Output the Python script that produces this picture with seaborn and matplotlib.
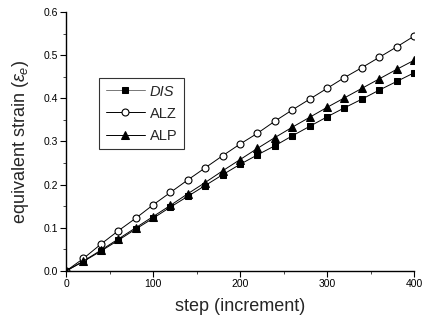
import matplotlib
matplotlib.use("Agg")
import matplotlib.pyplot as plt
import seaborn as sns
import pandas as pd
import numpy as np
from matplotlib.ticker import MultipleLocator

steps = list(range(0, 401, 20))
dis = [0, 0.022, 0.046, 0.071, 0.097, 0.122, 0.148, 0.173, 0.198, 0.223, 0.247,
       0.269, 0.290, 0.313, 0.335, 0.357, 0.378, 0.398, 0.419, 0.439, 0.459]
alz = [0, 0.029, 0.062, 0.093, 0.122, 0.153, 0.182, 0.211, 0.239, 0.267, 0.294,
       0.319, 0.347, 0.373, 0.398, 0.423, 0.448, 0.471, 0.495, 0.519, 0.544]
alp = [0, 0.023, 0.048, 0.074, 0.100, 0.126, 0.152, 0.179, 0.205, 0.232, 0.258,
       0.284, 0.309, 0.333, 0.356, 0.379, 0.401, 0.423, 0.445, 0.467, 0.488]
series_names = ["DIS", "ALZ", "ALP"]

sns.set_theme(style="ticks")
plt.rcParams['font.family'] = ['Liberation Sans', 'DejaVu Sans']
plt.rcParams['mathtext.fontset'] = 'custom'
plt.rcParams['mathtext.rm'] = 'Liberation Sans'
plt.rcParams['mathtext.it'] = 'Liberation Sans:italic'

fig = plt.figure(figsize=(4.24, 3.21), dpi=100)
ax = fig.add_axes([66/424, 1-271/321, (414-66)/424, (271-12)/321])

df = pd.DataFrame({"step": steps * 3,
                   "strain": dis + alz + alp,
                   "series": sum([[n] * len(steps) for n in series_names], [])})

styles = {
    "DIS": dict(marker="s", markersize=4.2, markerfacecolor="black", markeredgecolor="black"),
    "ALZ": dict(marker="o", markersize=5, markerfacecolor="white", markeredgecolor="black", markeredgewidth=0.8),
    "ALP": dict(marker="^", markersize=5.5, markerfacecolor="black", markeredgecolor="black"),
}
for name in series_names:
    sub = df[df["series"] == name]
    sns.lineplot(data=sub, x="step", y="strain", ax=ax, color="black", linewidth=0.7,
                 label=name, legend=False, **styles[name])

ax.set_xlim(0, 400)
ax.set_ylim(0, 0.6)
ax.xaxis.set_major_locator(MultipleLocator(100))
ax.xaxis.set_minor_locator(MultipleLocator(50))
ax.yaxis.set_major_locator(MultipleLocator(0.1))
ax.yaxis.set_minor_locator(MultipleLocator(0.05))
ax.yaxis.set_major_formatter(matplotlib.ticker.FormatStrFormatter('%.1f'))
for s in ["top", "right"]:
    ax.spines[s].set_visible(False)
for s in ["left", "bottom"]:
    ax.spines[s].set_linewidth(1.0)
    ax.spines[s].set_color("black")
ax.tick_params(which="major", direction="out", length=4, width=0.8, labelsize=7.5, colors="black", pad=2)
ax.tick_params(which="minor", direction="out", length=2, width=0.6)

ax.set_xlabel("step (increment)", fontsize=13, labelpad=6)
ax.set_ylabel(r"equivalent strain ($\varepsilon_e$)", fontsize=13, labelpad=9)

h, l = ax.get_legend_handles_labels()
leg = fig.legend(h, l, loc="upper left", bbox_to_anchor=(99/424, 1-78/321),
                 borderaxespad=0, fontsize=10.5, frameon=True, fancybox=False, edgecolor="black",
                 handlelength=2.7, labelspacing=0.55, borderpad=0.45, handletextpad=0.35)
leg.get_frame().set_linewidth(0.8)
leg.get_texts()[0].set_fontstyle("italic")
leg.get_lines()[0].set_color("#777777")

fig.savefig("out.png", dpi=100)
